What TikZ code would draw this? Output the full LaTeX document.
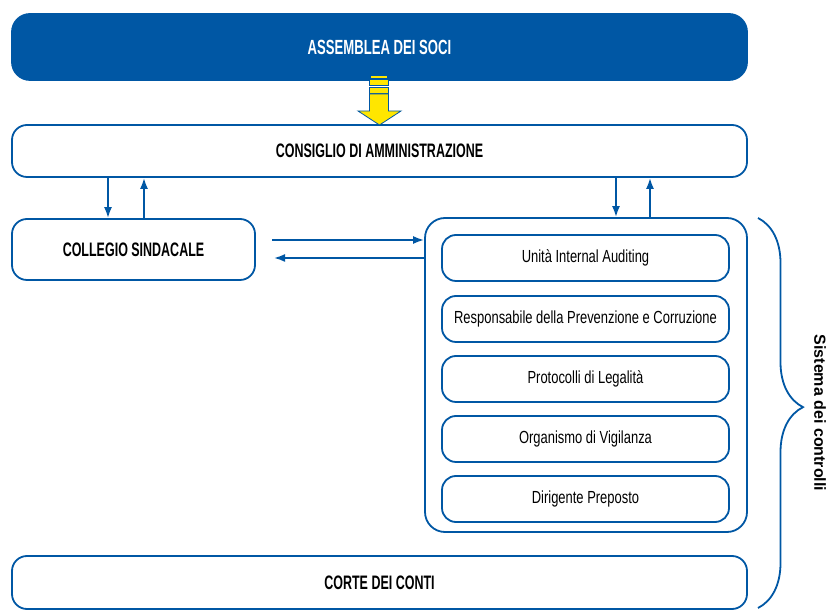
\documentclass[tikz,border=0pt]{standalone}
\usepackage{fontspec}
\setmainfont{Liberation Sans}
\newfontfamily\strettoB[FakeStretch=0.64]{Liberation Sans}
\newfontfamily\strettoR[FakeStretch=0.74]{Liberation Sans}
\usetikzlibrary{arrows.meta,decorations.pathreplacing}
\definecolor{bluB}{RGB}{0,87,164}
\definecolor{giallo}{RGB}{255,230,0}
\tikzset{
  organo/.style={draw=bluB, line width=1.8pt, rounded corners=15pt, fill=white,
    font=\strettoB\fontsize{19.5}{22}\selectfont\bfseries},
  ufficio/.style={draw=bluB, line width=1.8pt, rounded corners=14pt,
    minimum width=287pt, minimum height=46pt, font=\strettoR\fontsize{17.5}{20}\selectfont},
  freccia/.style={-{Latex[length=11pt,width=8pt]}, draw=bluB, line width=1.8pt},
}
\begin{document}
\begin{tikzpicture}[x=1pt,y=1pt]
    \useasboundingbox (0,0) rectangle (830,610);
    \node[organo, fill=bluB, text=white, minimum width=735pt, minimum height=66pt, rounded corners=18pt,
          font=\strettoB\fontsize{20.5}{23}\selectfont\bfseries] (ass) at (379.5,563) {ASSEMBLEA DEI SOCI};
    \node[organo, minimum width=735pt, minimum height=52pt] (cda) at (379.5,459) {CONSIGLIO DI AMMINISTRAZIONE};
    \node[organo, minimum width=243pt, minimum height=61pt] (col) at (133.5,360.5) {COLLEGIO SINDACALE};
    \node[organo, minimum width=322pt, minimum height=314pt, rounded corners=20pt] (sis) at (586,235) {};
    \foreach \y/\n/\t in {352/uia/Unità Internal Auditing,
                          291/rpc/Responsabile della Prevenzione e Corruzione,
                          231/pdl/Protocolli di Legalità,
                          171/odv/Organismo di Vigilanza,
                          111/dir/Dirigente Preposto}
        \node[ufficio] (\n) at (585.5,\y) {\t};
    \node[organo, minimum width=735pt, minimum height=53pt] (cdc) at (379.5,27.5) {CORTE DEI CONTI};
    % frecce
    \draw[freccia] (cda.south -| 108,0) -- (col.north -| 108,0);
    \draw[freccia] (col.north -| 144,0) -- (cda.south -| 144,0);
    \draw[freccia] (cda.south -| 616,0) -- (sis.north -| 616,0);
    \draw[freccia] (sis.north -| 650,0) -- (cda.south -| 650,0);
    \coordinate (p1) at (272,370);
    \coordinate (p2) at (274,352);
    \draw[freccia] (p1) -- (sis.west |- p1);
    \draw[freccia] (sis.west |- p2) -- (p2);
    % freccia gialla
    \begin{scope}[draw=bluB, fill=giallo, line width=0.8pt]
        \draw[giallo, line width=1.5pt] (371,533) -- (387,533);
        \filldraw (369.5,525) rectangle (388.5,531);
        \filldraw (369.5,517) rectangle (388.5,523);
        \filldraw (369.5,516) -- (369.5,499) -- (358,499) -- (379.5,485) -- (401,499) -- (388.5,499) -- (388.5,516) -- cycle;
    \end{scope}
    % graffa
    \draw[bluB, line width=1.8pt, decorate, decoration={brace, amplitude=45pt, aspect=0.485}] (758,392) -- (758,2);
    \node[rotate=-90, font=\fontsize{16}{18}\selectfont\bfseries] (lab) at (820,197) {Sistema dei controlli};
\end{tikzpicture}
\end{document}
